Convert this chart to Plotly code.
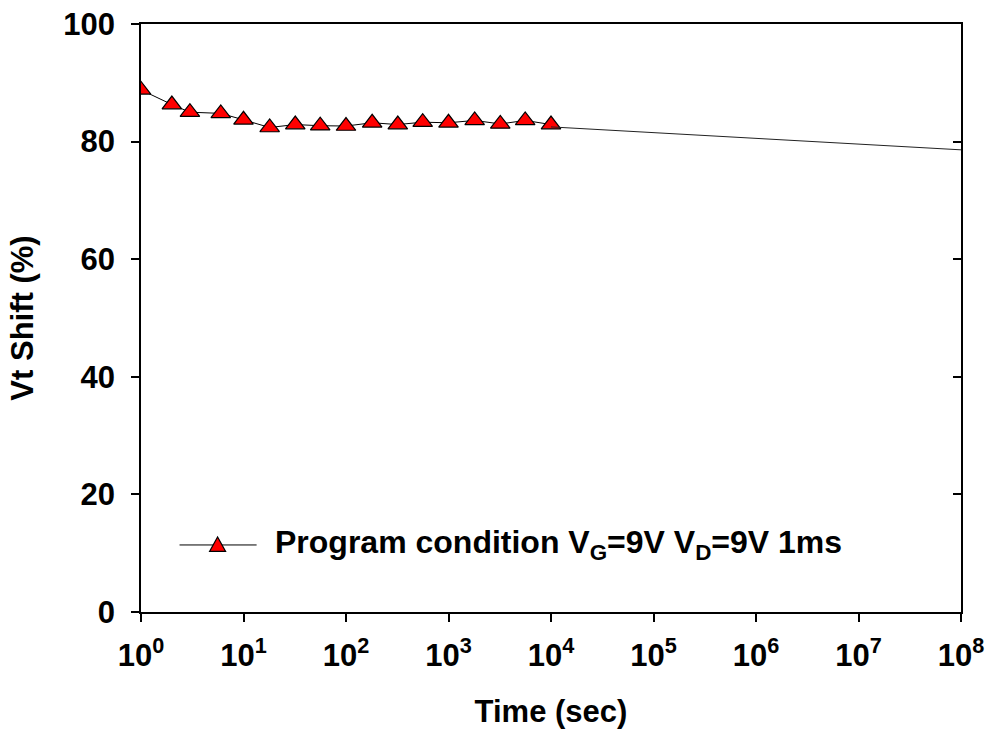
import plotly.graph_objects as go

# Data
time_s = [1, 2, 3, 6, 10, 18, 32, 56, 100, 180, 320, 560, 1000, 1800, 3200, 5600, 10000]
vt_shift = [88.8, 86.3, 85.0, 84.8, 83.7, 82.4, 82.9, 82.7, 82.65, 83.2, 82.9, 83.3, 83.2, 83.6, 83.0, 83.6, 82.9]

fit_time = [1e4, 1e8]
fit_shift = [82.5, 78.6]

x_tickvals = [10 ** k for k in range(0, 9)]
x_ticktext = ["10<sup>%d</sup>" % k for k in range(0, 9)]
y_tickvals = [0, 20, 40, 60, 80, 100]

legend_label = "Program condition V<sub>G</sub>=9V V<sub>D</sub>=9V 1ms"

FONT = "Liberation Sans, Arial, sans-serif"
FS = 31

fig = go.Figure()

fig.add_trace(go.Scatter(
    x=fit_time, y=fit_shift, mode="lines",
    line=dict(color="#222222", width=1),
    showlegend=False, yaxis="y2", hoverinfo="skip",
))

fig.add_trace(go.Scatter(
    x=time_s, y=vt_shift, mode="lines+markers",
    line=dict(color="black", width=1),
    marker=dict(symbol="triangle-up", size=17, color="#ff0000",
                line=dict(color="black", width=1.2)),
    name=legend_label, showlegend=False,
))

# custom legend (line + triangle + text)
ly = 0.114
fig.add_shape(type="line", xref="paper", yref="paper",
              x0=0.047, x1=0.141, y0=ly, y1=ly,
              line=dict(color="black", width=1))
fig.add_shape(type="path", xref="paper", yref="paper",
              xsizemode="pixel", ysizemode="pixel",
              xanchor=0.0934, yanchor=ly,
              path="M -8 -6.5 L 8 -6.5 L 0 8 Z",
              fillcolor="#ff0000", line=dict(color="black", width=1.2))
fig.add_annotation(text="<b>" + legend_label + "</b>", xref="paper", yref="paper",
                   x=0.161, y=ly, xanchor="left", yanchor="middle",
                   showarrow=False, font=dict(family=FONT, size=32, color="black"))

fig.update_layout(
    width=990, height=733,
    margin=dict(l=141, r=29, t=24, b=121),
    paper_bgcolor="white", plot_bgcolor="white",
    font=dict(family=FONT, color="black"),
    showlegend=False,
    xaxis=dict(
        type="log", range=[0, 8], automargin=False,
        tickvals=x_tickvals, ticktext=["<b>%s</b>" % t for t in x_ticktext],
        ticks="outside", ticklen=8, tickwidth=1.5, tickcolor="black",
        showline=True, linecolor="black", linewidth=1.5,
        mirror=True, showgrid=False, zeroline=False,
        tickfont=dict(family=FONT, size=FS, color="black"),
        ticklabelstandoff=7,
        title=dict(text="<b>Time (sec)</b>", font=dict(family=FONT, size=FS, color="black"),
                   standoff=28),
    ),
    yaxis=dict(
        range=[0, 100], tickvals=y_tickvals, automargin=False,
        ticktext=["<b>%d</b>" % v for v in y_tickvals],
        ticks="outside", ticklen=8, tickwidth=1.5, tickcolor="black",
        showline=True, linecolor="black", linewidth=1.5,
        showgrid=False, zeroline=False,
        tickfont=dict(family=FONT, size=FS, color="black"),
        ticklabelstandoff=10,
        title=dict(text="<b>Vt Shift (%)</b>", font=dict(family=FONT, size=FS, color="black"),
                   standoff=20),
    ),
    yaxis2=dict(
        overlaying="y", side="right", range=[0, 100], tickvals=y_tickvals, automargin=False,
        ticks="inside", ticklen=8, tickwidth=1.5, tickcolor="black",
        showticklabels=False, showline=True, linecolor="black", linewidth=1.5,
        showgrid=False, zeroline=False,
    ),
)

fig.write_html("out.html")
